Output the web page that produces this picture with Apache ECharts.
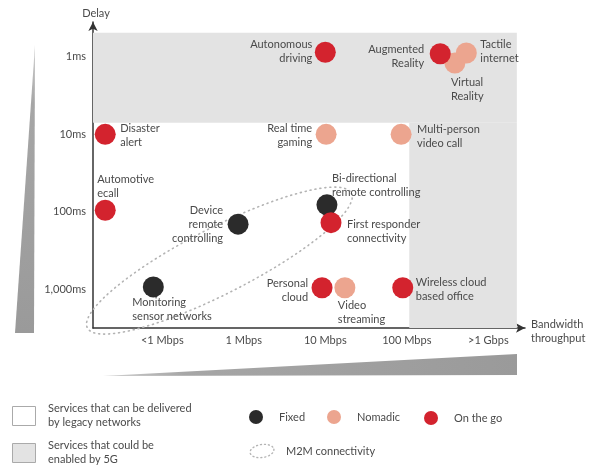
<!DOCTYPE html>
<html><head><meta charset="utf-8">
<script src="https://cdn.jsdelivr.net/npm/echarts@6/dist/echarts.min.js"></script>
<style>html,body{margin:0;padding:0;background:#fff}#c{width:600px;height:474px}</style>
</head><body><div id="c"></div>
<script>
// ---- tick labels ----
const bandwidthTicks = [1, 2, 3, 4, 5];
const bandwidthLabels = ['<1 Mbps', '1 Mbps', '10 Mbps', '100 Mbps', '>1 Gbps'];
const delayTicks = [0, 1, 2, 3];
const delayLabels = ['1ms', '10ms', '100ms', '1,000ms'];

// ---- services (bandwidth level, delay level) ----
const fixedNames = ['Monitoring\nsensor networks', 'Device\nremote\ncontrolling', 'Bi-directional\nremote controlling'];
const fixedBandwidth = [0.89, 1.93, 3.02];
const fixedDelay = [2.97, 2.16, 1.91];

const nomadicNames = ['Virtual\nReality', 'Tactile\ninternet', 'Real time\ngaming', 'Multi-person\nvideo call', 'Video\nstreaming'];
const nomadicBandwidth = [4.59, 4.73, 3.01, 3.93, 3.24];
const nomadicDelay = [0.08, -0.05, 1.0, 1.0, 2.98];

const onTheGoNames = ['Disaster\nalert', 'Automotive\necall', 'Autonomous\ndriving', 'Augmented\nReality', 'First responder\nconnectivity', 'Personal\ncloud', 'Wireless cloud\nbased office'];
const onTheGoBandwidth = [0.30, 0.30, 3.00, 4.41, 3.07, 2.96, 3.95];
const onTheGoDelay = [1.00, 1.98, -0.06, -0.04, 2.14, 2.98, 2.98];

// ---- regions ----
const legacyBandwidthMax = 4.03;
const legacyDelayMin = 0.85;
const fiveGBandwidthMax = 5.35;
const fiveGDelayMin = -0.31;
const m2mRegion = [0.08, 3.50, 3.32, 1.76]; // from (bandwidth, delay) to (bandwidth, delay)

// ---- layout / style (not data) ----
const X_MIN = 0.15, X_MAX = 5.45, Y_MIN = -0.45, Y_MAX = 3.5;
const TEXT = '#4a4a4a';
const FONT = 'Lato';
const COLORS = { Fixed: '#2b2b2b', Nomadic: '#eca58f', 'On the go': '#d3232e' };
const M2M_HALF_WIDTH = 33;
const labelLayout = {
  'Monitoring\nsensor networks': ['left', -21, 23],
  'Device\nremote\ncontrolling': ['right', -15, 0],
  'Bi-directional\nremote controlling': ['left', 5, -19.5],
  'Virtual\nReality': ['left', -4, 26],
  'Tactile\ninternet': ['left', 14, -2],
  'Real time\ngaming': ['right', -14, 1],
  'Multi-person\nvideo call': ['left', 16, 2],
  'Video\nstreaming': ['left', -7, 24.5],
  'Disaster\nalert': ['left', 15, 1],
  'Automotive\necall': ['left', -8, -23.5],
  'Autonomous\ndriving': ['right', -13, -0.5],
  'Augmented\nReality': ['right', -16, 2.5],
  'First responder\nconnectivity': ['left', 16, 9],
  'Personal\ncloud': ['right', -14, 2.5],
  'Wireless cloud\nbased office': ['left', 13, 2]
};

function makeSeries(name, names, bw, dl, z) {
  return {
    type: 'scatter', name: name, z: z, symbolSize: 21,
    itemStyle: { color: COLORS[name], opacity: 1 },
    emphasis: { disabled: true },
    label: { show: true, formatter: p => p.name, color: TEXT, fontFamily: FONT, fontSize: 11, lineHeight: 14 },
    data: names.map((n, i) => ({
      name: n, value: [bw[i], dl[i]],
      label: { position: 'inside', align: labelLayout[n][0], verticalAlign: 'middle', offset: [labelLayout[n][1], labelLayout[n][2]] }
    }))
  };
}

function ellipsePts(cx, cy, rx, ry, ang) {
  const pts = [];
  for (let k = 0; k <= 80; k++) {
    const t = k / 80 * Math.PI * 2;
    const ex = rx * Math.cos(t), ey = ry * Math.sin(t);
    pts.push([cx + ex * Math.cos(ang) - ey * Math.sin(ang), cy + ex * Math.sin(ang) + ey * Math.cos(ang)]);
  }
  return pts;
}

const chart = echarts.init(document.getElementById('c'), null, { renderer: 'canvas' });
const axisLabelBase = { color: TEXT, fontFamily: FONT, fontSize: 11 };
const wedgeStops = [{ offset: 0, color: '#cfcfcf' }, { offset: 0.2, color: '#a6a6a6' }, { offset: 1, color: '#9a9a9a' }];
chart.setOption({
  animation: false,
  grid: { left: 93, top: 22, width: 432, height: 306 },
  xAxis: {
    type: 'value', min: X_MIN, max: X_MAX,
    axisLine: { show: true, onZero: false, lineStyle: { color: '#333', width: 1.5 }, symbol: ['none', 'arrow'], symbolSize: [7, 9] },
    axisTick: { show: false }, splitLine: { show: false },
    axisLabel: Object.assign({ customValues: bandwidthTicks, margin: 7, formatter: v => bandwidthLabels[bandwidthTicks.indexOf(Math.round(v))] || '' }, axisLabelBase)
  },
  yAxis: {
    type: 'value', min: Y_MIN, max: Y_MAX, inverse: true,
    axisLine: { show: true, onZero: false, lineStyle: { color: '#333', width: 1.5 }, symbol: ['none', 'arrow'], symbolSize: [7, 9] },
    axisTick: { show: false }, splitLine: { show: false },
    axisLabel: Object.assign({ customValues: delayTicks, margin: 7, formatter: v => delayLabels[delayTicks.indexOf(Math.round(v))] || '' }, axisLabelBase)
  },
  legend: [
    { data: ['Fixed'], left: 244, top: 405 },
    { data: ['Nomadic'], left: 322, top: 405 },
    { data: ['On the go'], left: 419, top: 406 }
  ].map(l => Object.assign({ icon: 'circle', itemWidth: 36, itemHeight: 14, selectedMode: false, textStyle: { color: TEXT, fontFamily: FONT, fontSize: 11 } }, l)),
  series: [
    {
      type: 'scatter', name: 'regions', z: 1, data: [], silent: true,
      markArea: {
        silent: true, itemStyle: { color: '#e3e3e3' }, label: { show: false },
        data: [
          [{ xAxis: X_MIN, yAxis: fiveGDelayMin }, { xAxis: fiveGBandwidthMax, yAxis: legacyDelayMin }],
          [{ xAxis: legacyBandwidthMax, yAxis: legacyDelayMin }, { xAxis: fiveGBandwidthMax, yAxis: Y_MAX }]
        ]
      }
    },
    {
      type: 'custom', name: 'M2M', z: 2, silent: true, clip: false,
      data: [m2mRegion],
      encode: { x: [0, 2], y: [1, 3] },
      renderItem: function (params, api) {
        const p1 = api.coord([api.value(0), api.value(1)]);
        const p2 = api.coord([api.value(2), api.value(3)]);
        const rx = Math.hypot(p2[0] - p1[0], p2[1] - p1[1]) / 2;
        const ang = Math.atan2(p2[1] - p1[1], p2[0] - p1[0]);
        return {
          type: 'polygon',
          shape: { points: ellipsePts((p1[0] + p2[0]) / 2, (p1[1] + p2[1]) / 2, rx, M2M_HALF_WIDTH, ang) },
          style: { fill: 'none', stroke: '#b3b3b3', lineWidth: 1.6, lineDash: [1, 4], lineCap: 'round' }
        };
      }
    },
    makeSeries('Fixed', fixedNames, fixedBandwidth, fixedDelay, 3),
    makeSeries('Nomadic', nomadicNames, nomadicBandwidth, nomadicDelay, 4),
    makeSeries('On the go', onTheGoNames, onTheGoBandwidth, onTheGoDelay, 5)
  ],
  graphic: [
    { type: 'polygon', shape: { points: [[35, 45], [34, 333], [15, 333]] },
      style: { fill: new echarts.graphic.LinearGradient(0, 0, 0, 1, wedgeStops) } },
    { type: 'polygon', shape: { points: [[103, 376], [517, 354], [517, 375]] },
      style: { fill: new echarts.graphic.LinearGradient(0, 0, 1, 0, wedgeStops) } },
    { type: 'text', x: 96, y: 13, style: { text: 'Delay', fill: TEXT, font: '11px ' + FONT, textAlign: 'center', textVerticalAlign: 'middle' } },
    { type: 'text', x: 531, y: 331, style: { text: 'Bandwidth\nthroughput', fill: TEXT, font: '11px ' + FONT, lineHeight: 14, textAlign: 'left', textVerticalAlign: 'middle' } },
    { type: 'rect', shape: { x: 12.5, y: 406.5, width: 23, height: 19 }, style: { fill: '#fff', stroke: '#aaa', lineWidth: 1 } },
    { type: 'rect', shape: { x: 12.5, y: 443.5, width: 23, height: 19 }, style: { fill: '#e3e3e3', stroke: '#aaa', lineWidth: 1 } },
    { type: 'text', x: 48, y: 415, style: { text: 'Services that can be delivered\nby legacy networks', fill: TEXT, font: '11px ' + FONT, lineHeight: 14, textAlign: 'left', textVerticalAlign: 'middle' } },
    { type: 'text', x: 48, y: 452, style: { text: 'Services that could be\nenabled by 5G', fill: TEXT, font: '11px ' + FONT, lineHeight: 14, textAlign: 'left', textVerticalAlign: 'middle' } },
    { type: 'polygon', shape: { points: ellipsePts(262, 451, 12, 6.5, -0.15) }, style: { fill: 'none', stroke: '#b3b3b3', lineWidth: 1.4, lineDash: [1, 3], lineCap: 'round' } },
    { type: 'text', x: 286, y: 451, style: { text: 'M2M connectivity', fill: TEXT, font: '11px ' + FONT, textAlign: 'left', textVerticalAlign: 'middle' } }
  ]
});
</script></body></html>
